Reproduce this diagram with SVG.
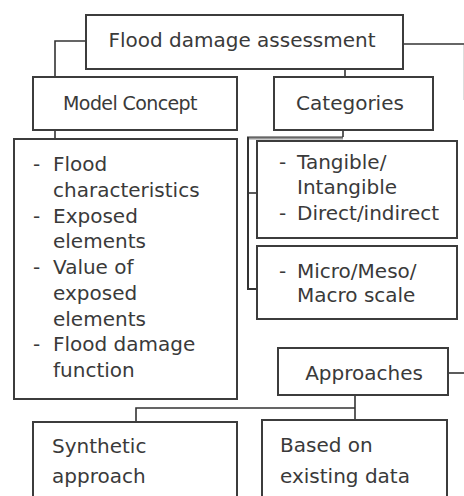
<svg xmlns="http://www.w3.org/2000/svg" width="464" height="496" viewBox="0 0 464 496">
<style>
.box{fill:#fff;stroke:#3c3c3c;stroke-width:2}
.c{fill:none;stroke:#333;stroke-width:1.6}
text{font-family:"DejaVu Sans","Liberation Sans",sans-serif;font-size:20px;fill:#3a3a3a}
.m{text-anchor:middle}
</style>
<rect width="464" height="496" fill="#fff"/>
<g id="connectors">
<path class="c" d="M86,41 H55 V77"/>
<path class="c" d="M55,130 V139"/>
<path class="c" d="M345,69 V77"/>
<path class="c" d="M343,130 V137"/>
<path d="M343,137.5 H248 V289 H257" fill="none" stroke="#333" stroke-width="2"/>
<path d="M343,138.5 H249" fill="none" stroke="#999" stroke-width="2"/>
<path class="c" d="M248,193 H257"/>
<path class="c" d="M403,44 H464"/>
<path d="M463.5,45 V100" fill="none" stroke="#ddd" stroke-width="1"/>
<path class="c" d="M448,373 H464"/>
<path class="c" d="M355,396 V420"/>
<path class="c" d="M355,408 H136 V422"/>
</g>
<g id="flood-damage-assessment">
<rect class="box" x="86" y="15" width="317" height="54"/>
<text class="m" x="242" y="47">Flood damage assessment</text>
</g>
<g id="model-concept">
<rect class="box" x="33" y="77" width="204" height="53"/>
<text class="m" x="130" y="110" style="font-size:19px;letter-spacing:-0.6px">Model Concept</text>
</g>
<g id="categories">
<rect class="box" x="274" y="77" width="159" height="53"/>
<text class="m" x="350" y="110">Categories</text>
</g>
<g id="model-list">
<rect class="box" x="14" y="139" width="223" height="260"/>
<text x="33" y="171">-</text><text x="53" y="171">Flood</text>
<text x="53" y="196.75">characteristics</text>
<text x="33" y="222.5">-</text><text x="53" y="222.5">Exposed</text>
<text x="53" y="248.25">elements</text>
<text x="33" y="274">-</text><text x="53" y="274">Value of</text>
<text x="53" y="299.75">exposed</text>
<text x="53" y="325.5">elements</text>
<text x="33" y="351.25">-</text><text x="53" y="351.25">Flood damage</text>
<text x="53" y="377">function</text>
</g>
<g id="tangible">
<rect class="box" x="257" y="141" width="200" height="97"/>
<text x="279" y="169">-</text><text x="297" y="169">Tangible/</text>
<text x="297" y="194">Intangible</text>
<text x="279" y="220">-</text><text x="297" y="220">Direct/indirect</text>
</g>
<g id="scale">
<rect class="box" x="257" y="246" width="200" height="73"/>
<text x="279" y="278">-</text><text x="297" y="278">Micro/Meso/</text>
<text x="297" y="302">Macro scale</text>
</g>
<g id="approaches">
<rect class="box" x="278" y="348" width="170" height="47"/>
<text class="m" x="364" y="380">Approaches</text>
</g>
<g id="synthetic">
<rect class="box" x="33" y="422" width="204" height="82"/>
<text x="52" y="453">Synthetic</text>
<text x="52" y="483">approach</text>
</g>
<g id="based">
<rect class="box" x="262" y="420" width="185" height="84"/>
<text x="280" y="452">Based on</text>
<text x="280" y="483">existing data</text>
</g>
</svg>
